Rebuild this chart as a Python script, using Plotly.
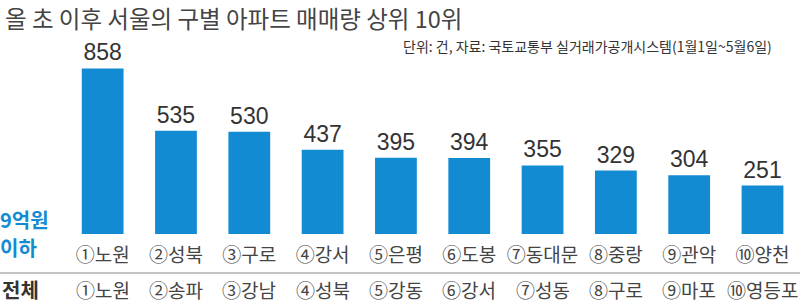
import plotly.graph_objects as go

title = "올 초 이후 서울의 구별 아파트 매매량 상위 10위"
source = "단위: 건, 자료: 국토교통부 실거래가공개시스템(1월1일~5월6일)"
districts_under9 = ["①노원", "②성북", "③구로", "④강서", "⑤은평", "⑥도봉", "⑦동대문", "⑧중랑", "⑨관악", "⑩양천"]
values_under9 = [858, 535, 530, 437, 395, 394, 355, 329, 304, 251]
districts_total = ["①노원", "②송파", "③강남", "④성북", "⑤강동", "⑥강서", "⑦성동", "⑧구로", "⑨마포", "⑩영등포"]

KR = "Noto Sans CJK KR, Noto Sans, sans-serif"
NUM = "Liberation Sans Narrow, Arial Narrow, Liberation Sans, sans-serif"
BLUE = "#138bd3"

W, H = 800, 306
ml, mr, mt, mb = 66, 0, 41, 72
ph = H - mt - mb

def py(p):
    return (H - mb - p) / ph

def px(p):
    return (p - ml) / (W - ml - mr)

fig = go.Figure()
fig.add_trace(go.Bar(
    x=districts_under9, y=values_under9,
    marker=dict(color=BLUE, line=dict(width=0)),
    text=[str(v) for v in values_under9], textposition="outside",
    textfont=dict(family=NUM, size=23, color="#333333"),
    cliponaxis=False, hoverinfo="skip",
))

annotations = [
    dict(text=title, x=px(3), y=py(18), xref="paper", yref="paper", xanchor="left", yanchor="middle",
         showarrow=False, font=dict(family=KR, size=23.5, color="#444444")),
    dict(text=source, x=px(774), y=py(46), xref="paper", yref="paper", xanchor="right", yanchor="middle",
         showarrow=False, font=dict(family=KR, size=14, color="#333333")),
    dict(text="9억원", x=px(-2), y=py(219), xref="paper", yref="paper", xanchor="left", yanchor="middle",
         showarrow=False, font=dict(family=KR, size=20, color=BLUE, weight=700)),
    dict(text="이하", x=px(-2), y=py(247), xref="paper", yref="paper", xanchor="left", yanchor="middle",
         showarrow=False, font=dict(family=KR, size=20, color=BLUE, weight=700)),
    dict(text="전체", x=px(0), y=py(289), xref="paper", yref="paper", xanchor="left", yanchor="middle",
         showarrow=False, font=dict(family=KR, size=20, color="#333333", weight=700)),
]
for d, t in zip(districts_under9, districts_total):
    annotations.append(dict(text=t, x=d, y=py(289), xref="x", yref="paper", xanchor="center", yanchor="middle",
                            showarrow=False, font=dict(family=KR, size=19, color="#444444")))

fig.update_layout(
    width=W, height=H,
    margin=dict(l=ml, r=mr, t=mt, b=mb, pad=0),
    paper_bgcolor="white", plot_bgcolor="white",
    bargap=0.43, showlegend=False,
    xaxis=dict(type="category", showgrid=False, zeroline=False, showline=False, ticks="",
               tickfont=dict(family=KR, size=19, color="#444444"), ticklabelstandoff=8),
    yaxis=dict(range=[0, 1000], visible=False),
    annotations=annotations,
    shapes=[dict(type="line", xref="paper", yref="paper", x0=px(0), x1=1, y0=py(273), y1=py(273),
                 line=dict(color="#b0b0b0", width=1.5))],
)

fig.write_html("out.html")
